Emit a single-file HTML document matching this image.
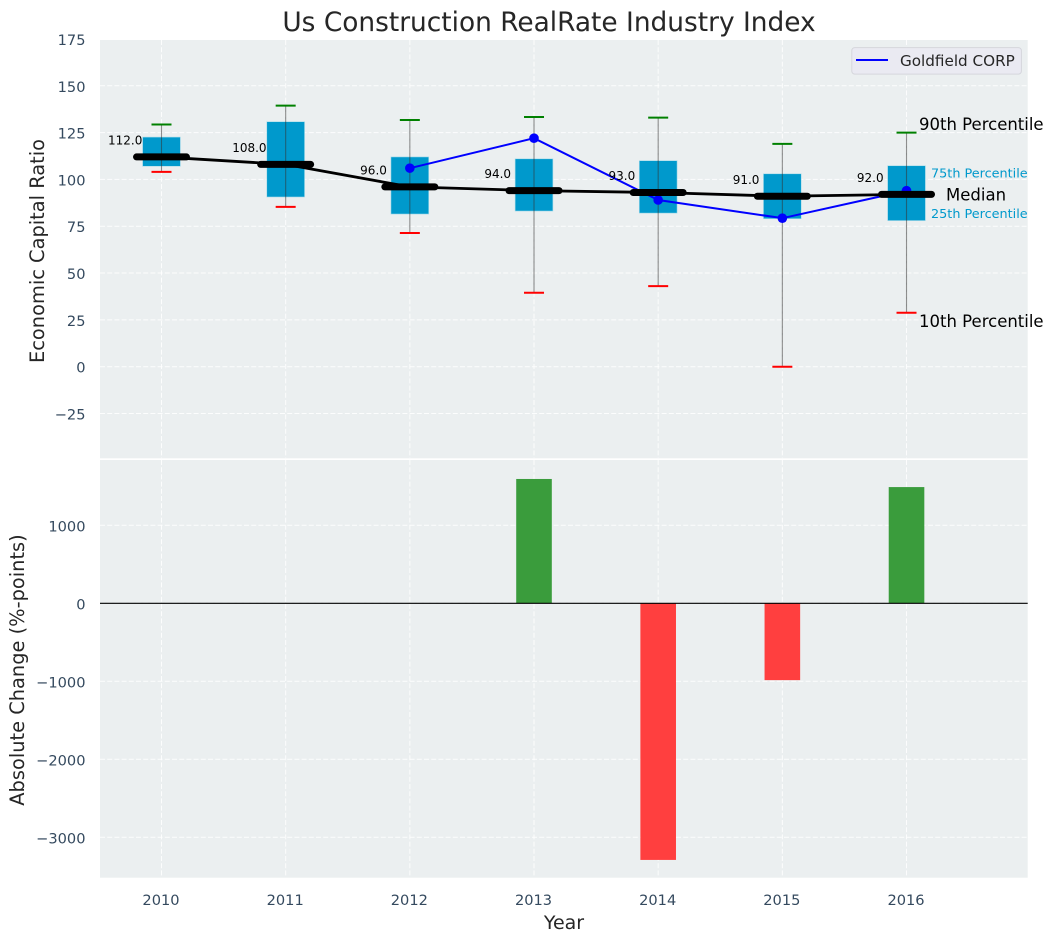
<!DOCTYPE html>
<html>
<head>
<meta charset="utf-8">
<style>
html,body{margin:0;padding:0;background:#fff;width:1054px;height:942px;overflow:hidden}
svg{display:block}
text{font-family:"DejaVu Sans","Liberation Sans",sans-serif}
</style>
</head>
<body>
<svg id="chart" width="1054" height="942" viewBox="0 0 1054 942" xmlns="http://www.w3.org/2000/svg">
  <defs>
    <clipPath id="clip-top"><rect x="100" y="40" width="927.7" height="418.3"/></clipPath>
    <clipPath id="clip-bottom"><rect x="100" y="460" width="927.7" height="417.7"/></clipPath>
  </defs>
</svg>
<script>
const years = [2010, 2011, 2012, 2013, 2014, 2015, 2016];
const p90 = [129.3, 139.4, 131.7, 133.3, 133, 119, 125];
const q75 = [122.6, 130.8, 112, 111, 110, 103, 107.3];
const medians = [112, 108, 96, 94, 93, 91, 92];
const q25 = [107, 90.6, 81.5, 83.1, 82, 79, 78];
const p10 = [104, 85.3, 71.4, 39.5, 43, 0, 28.8];
const companyYears = [2012, 2013, 2014, 2015, 2016];
const companyValues = [106, 122, 89, 79.3, 94];
const changes = [null, null, null, 1594, -3290, -985, 1490];
const topTicks = [-25, 0, 25, 50, 75, 100, 125, 150, 175];
const bottomTicks = [-3000, -2000, -1000, 0, 1000];

const xs = v => 161.5 + (v - 2010) * 124.17;
const yTop = v => 366.7 - v * 1.873;
const yBottom = v => 603.3 - v * 0.078;
const svg = document.getElementById('chart');
const NS = 'http://www.w3.org/2000/svg';

function make(tag, attrs, parent) {
  const el = document.createElementNS(NS, tag);
  for (const k in attrs) el.setAttribute(k, attrs[k]);
  (parent || svg).appendChild(el);
  return el;
}
function fmt(v) { return v < 0 ? '\u2212' + Math.abs(v) : String(v); }

let el;
el = make('rect', {x: 100, y: 40, width: 927.7, height: 418.3, fill: '#ebeff0'});


el = make('rect', {x: 100, y: 460, width: 927.7, height: 417.7, fill: '#ebeff0'});



const gridTop = make('g', {'clip-path': 'url(#clip-top)', stroke: '#fff', 'stroke-width': 1, 'stroke-dasharray': '5 2.2', 'stroke-opacity': 0.85});


const gridBottom = make('g', {'clip-path': 'url(#clip-bottom)', stroke: '#fff', 'stroke-width': 1, 'stroke-dasharray': '5 2.2', 'stroke-opacity': 0.85});



topTicks.forEach(t => {
  el = make('line', {x1: 100, x2: 1027.7, y1: yTop(t), y2: yTop(t)}, gridTop);
  
  
  el = make('text', {x: 85.5, y: yTop(t) + 6, 'text-anchor': 'end', 'font-size': 14.6, fill: '#34495e'});
  el.textContent = fmt(t);
  
  
});
bottomTicks.forEach(t => {
  el = make('line', {x1: 100, x2: 1027.7, y1: yBottom(t), y2: yBottom(t)}, gridBottom);
  
  
  el = make('text', {x: 85.5, y: yBottom(t) + 6, 'text-anchor': 'end', 'font-size': 14.6, fill: '#34495e'});
  el.textContent = fmt(t);
  
  
});
years.forEach(y => {
  el = make('line', {x1: xs(y), x2: xs(y), y1: 40, y2: 458.3}, gridTop);
  
  
  el = make('line', {x1: xs(y), x2: xs(y), y1: 460, y2: 877.7}, gridBottom);
  
  
  el = make('text', {x: xs(y) - 0.5, y: 905, 'text-anchor': 'middle', 'font-size': 14.6, fill: '#34495e'});
  el.textContent = y;
  
  
});

years.forEach((y, i) => {
  const x = xs(y);
  el = make('rect', {x: x - 18.9, y: yTop(q75[i]), width: 37.8, height: yTop(q25[i]) - yTop(q75[i]), fill: '#0099cc', stroke: '#a8dcea', 'stroke-width': 0.6});
  
  
  el = make('line', {x1: x, x2: x, y1: yTop(p90[i]), y2: yTop(p10[i]), stroke: '#333', 'stroke-width': 1.1, 'stroke-opacity': 0.55});
  
  
  el = make('line', {x1: x - 10, x2: x + 10, y1: yTop(p90[i]), y2: yTop(p90[i]), stroke: '#008000', 'stroke-width': 2});
  
  
  el = make('line', {x1: x - 10, x2: x + 10, y1: yTop(p10[i]), y2: yTop(p10[i]), stroke: '#ff0000', 'stroke-width': 2});
  
  
});

el = make('polyline', {points: companyYears.map((y, i) => xs(y) + ',' + yTop(companyValues[i])).join(' '), fill: 'none', stroke: '#0000ff', 'stroke-width': 2});


companyYears.forEach((y, i) => {
  el = make('circle', {cx: xs(y), cy: yTop(companyValues[i]), r: 4.8, fill: '#0000ff'});
  
  
});

el = make('polyline', {points: years.map((y, i) => xs(y) + ',' + yTop(medians[i])).join(' '), fill: 'none', stroke: '#000', 'stroke-width': 2.8});


years.forEach((y, i) => {
  const x = xs(y);
  el = make('line', {x1: x - 25, x2: x + 25, y1: yTop(medians[i]), y2: yTop(medians[i]), stroke: '#000', 'stroke-width': 7, 'stroke-linecap': 'round'});
  
  
  el = make('text', {x: x - 36.3, y: yTop(medians[i]) - 12.5, 'text-anchor': 'middle', 'font-size': 12, fill: '#000'});
  el.textContent = medians[i].toFixed(1);
  
  
});

years.forEach((y, i) => {
  if (changes[i] === null) return;
  const top = Math.min(yBottom(changes[i]), yBottom(0));
  const h = Math.abs(yBottom(changes[i]) - yBottom(0));
  el = make('rect', {x: xs(y) - 17.8, y: top, width: 35.6, height: h, fill: changes[i] > 0 ? '#3a9c3c' : '#ff3f3f', 'clip-path': 'url(#clip-bottom)'});
  
  
});
el = make('line', {x1: 100, x2: 1027.7, y1: yBottom(0), y2: yBottom(0), stroke: '#000', 'stroke-width': 1.1});



const last = years.length - 1;
const ax = xs(years[last]);
el = make('text', {x: ax + 12.5, y: yTop(p90[last]) - 2.8, 'font-size': 16.5, fill: '#000'});
el.textContent = '90th Percentile';


el = make('text', {x: ax + 12.5, y: yTop(p10[last]) + 14, 'font-size': 16.5, fill: '#000'});
el.textContent = '10th Percentile';


el = make('text', {x: ax + 39.5, y: yTop(medians[last]) + 6, 'font-size': 16.5, fill: '#000'});
el.textContent = 'Median';


el = make('text', {x: ax + 24.5, y: yTop(q75[last]) + 11.8, 'font-size': 12.8, fill: '#0099cc'});
el.textContent = '75th Percentile';


el = make('text', {x: ax + 24.5, y: yTop(q25[last]) - 2.5, 'font-size': 12.8, fill: '#0099cc'});
el.textContent = '25th Percentile';



el = make('rect', {x: 851.8, y: 47.6, width: 169.6, height: 26.5, rx: 3, fill: '#eaeaf2', stroke: '#d5d6dc', 'stroke-width': 1});


el = make('line', {x1: 856, x2: 888, y1: 60, y2: 60, stroke: '#0000ff', 'stroke-width': 2});


el = make('text', {x: 900, y: 66, 'font-size': 15.2, fill: '#262626'});
el.textContent = 'Goldfield CORP';



el = make('text', {x: 549, y: 31, 'text-anchor': 'middle', 'font-size': 26.4, fill: '#262626'});
el.textContent = 'Us Construction RealRate Industry Index';


el = make('text', {x: 564, y: 929, 'text-anchor': 'middle', 'font-size': 19, fill: '#262626'});
el.textContent = 'Year';


el = make('text', {transform: 'translate(44,251) rotate(-90)', 'text-anchor': 'middle', 'font-size': 19.4, fill: '#262626'});
el.textContent = 'Economic Capital Ratio';


el = make('text', {transform: 'translate(24,670) rotate(-90)', 'text-anchor': 'middle', 'font-size': 19.4, fill: '#262626'});
el.textContent = 'Absolute Change (%-points)';


</script>
</body>
</html>
